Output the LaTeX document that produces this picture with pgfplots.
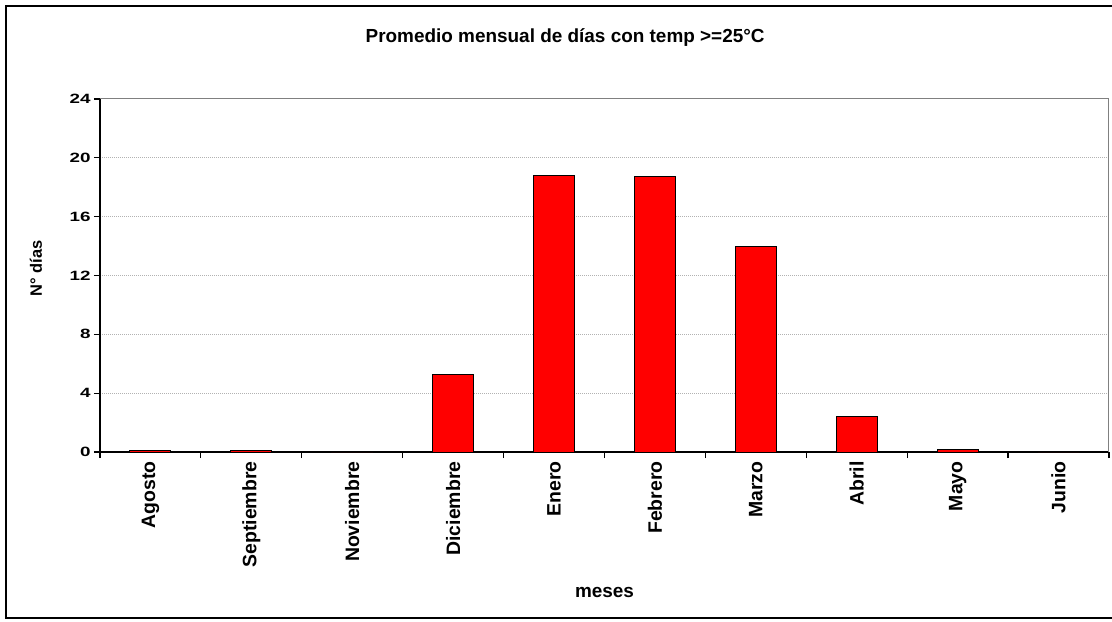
\documentclass[border=0pt]{standalone}
\usepackage{fontspec}
\setmainfont{Liberation Sans}
\newfontfamily\ytickfont[FakeStretch=1.4]{Liberation Sans}
\usepackage{pgfplots}
\pgfplotsset{compat=1.18}
\pgfplotstableread{
x y
0 0.1
1 0.1
2 0
3 5.3
4 18.8
5 18.7
6 14.0
7 2.4
8 0.2
9 0
}\datatable
\begin{document}
\begin{tikzpicture}
\useasboundingbox (0,0) rectangle (1112bp,622bp);
\draw[line width=2bp] (1112bp,616.3bp) -- (5.5bp,616.3bp) -- (5.5bp,4bp) -- (1112bp,4bp);
\begin{axis}[
  at={(100bp,170bp)}, anchor=south west,
  scale only axis, width=1009bp, height=353bp,
  xmin=-0.5, xmax=9.5, ymin=0, ymax=24,
  axis x line*=bottom, axis y line*=left,
  axis line style={line width=1.2bp, black},
  xtick=data,
  xticklabels={Agosto,Septiembre,Noviembre,Diciembre,Enero,Febrero,Marzo,Abril,Mayo,Junio},
  minor xtick={-0.5,0.5,...,9.5},
  ytick={0,4,...,24},
  tick align=outside, major tick length=6bp, minor tick length=6bp,
  tick style={line width=1.2bp, black},
  major x tick style={draw=none},
  ymajorgrids, grid style={gray!60, line width=1bp, dash pattern=on 1bp off 1bp},
  xticklabel style={rotate=90, anchor=east, font=\bfseries\fontsize{19.5}{19.5}\selectfont},
  yticklabel style={font=\ytickfont\bfseries\fontsize{13.5}{13.5}\selectfont},
  /pgf/number format/assume math mode=true,
  xlabel={meses},
  xlabel style={at={(axis description cs:0.5,-0.397)}, anchor=center, font=\bfseries\fontsize{19}{19}\selectfont},
  ylabel={N° días},
  ylabel style={at={(axis description cs:-0.0634,0.52)}, anchor=center, font=\bfseries\fontsize{16.5}{16.5}\selectfont},
  title={Promedio mensual de días con temp >=25°C},
  title style={at={(axis description cs:0.461,1.143)}, anchor=base, font=\bfseries\fontsize{19}{19}\selectfont},
  clip=false,
]
\addplot[ybar, bar width=41bp, fill=red, draw=black, line width=1bp] table[x=x,y=y]{\datatable};
\draw[gray, line width=1bp] (rel axis cs:0,1) -- (rel axis cs:1,1) -- (rel axis cs:1,0);
\end{axis}
\end{tikzpicture}
\end{document}
